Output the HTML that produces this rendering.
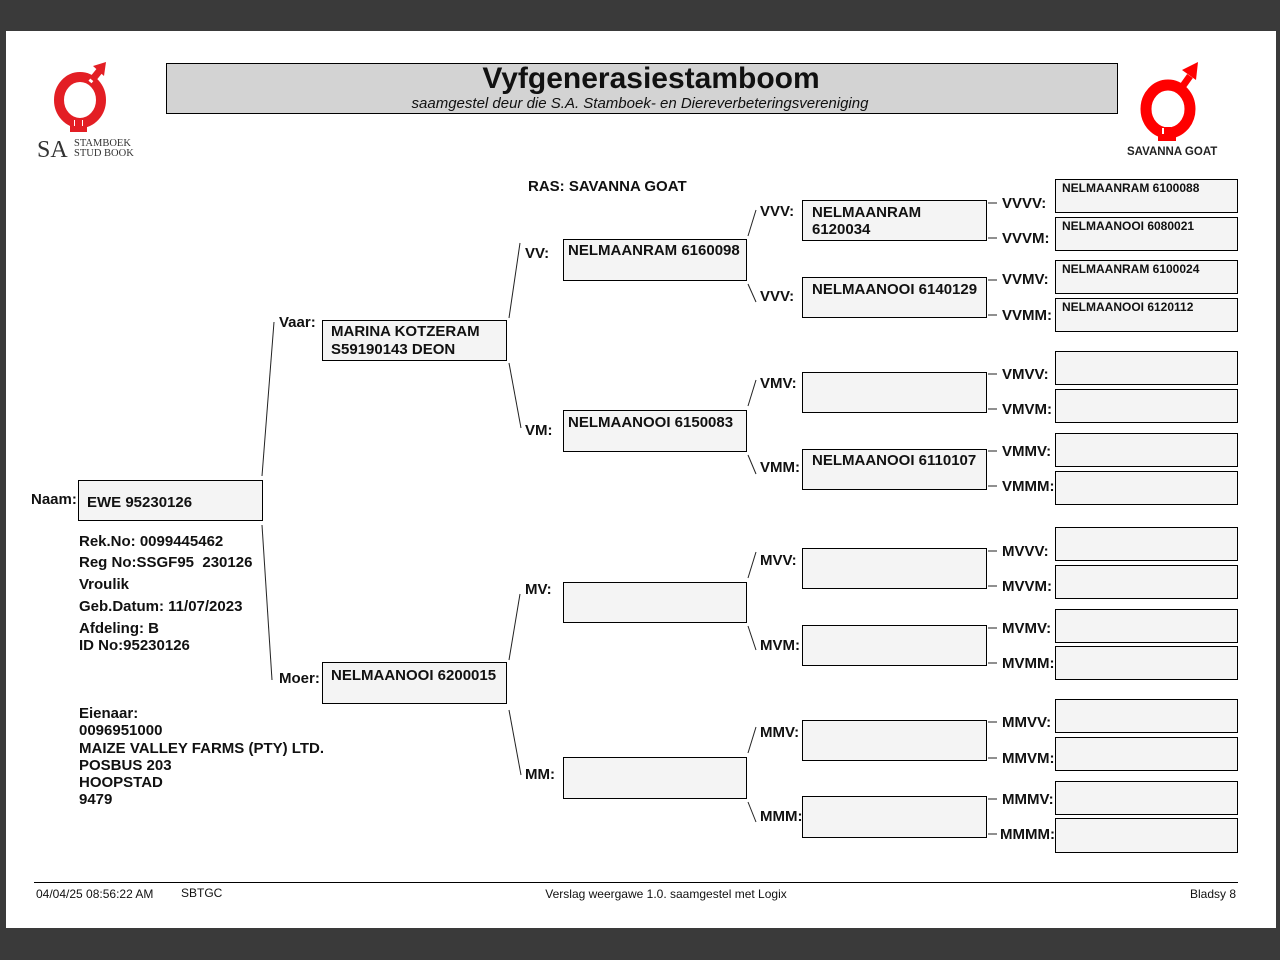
<!DOCTYPE html>
<html><head><meta charset="utf-8"><style>
html,body{margin:0;padding:0;background:#3a3a3a;}
svg{display:block;}
text{font-family:"Liberation Sans",Arial,sans-serif;}
.b{font-weight:bold;font-size:15px;fill:#111;}
.s{font-weight:bold;font-size:12px;fill:#111;}
.f{font-size:12px;fill:#111;}
.bx{fill:#f4f4f4;stroke:#000;stroke-width:1;}
.ln{stroke:#222;stroke-width:1;fill:none;}
</style></head><body>
<svg width="1280" height="960" xmlns="http://www.w3.org/2000/svg">
<rect x="0" y="0" width="1280" height="960" fill="#3a3a3a"/>
<rect x="6" y="31" width="1270" height="897" fill="#fff"/>
<!-- left logo -->
<g>
<ellipse cx="80" cy="100" rx="21" ry="23" fill="none" stroke="#e31e24" stroke-width="10"/>
<rect x="74" y="120" width="9" height="12" fill="#fff"/>
<rect x="75" y="118" width="7" height="14" fill="#e31e24"/>
<rect x="70" y="126" width="17" height="6" fill="#e31e24"/>
<line x1="90" y1="82" x2="100" y2="70" stroke="#fff" stroke-width="4"/>
<line x1="92" y1="80" x2="101" y2="69" stroke="#e31e24" stroke-width="7"/>
<polygon points="93,66 106,62 104,76" fill="#e31e24"/>
<text x="37" y="157" style="font-family:'Liberation Serif',serif;font-size:24px;fill:#333">SA</text>
<text x="74" y="146" style="font-family:'Liberation Serif',serif;font-size:10.5px;fill:#333">STAMBOEK</text>
<text x="74" y="156" style="font-family:'Liberation Serif',serif;font-size:10.5px;fill:#333">STUD BOOK</text>
</g>
<!-- right logo -->
<g>
<ellipse cx="1168" cy="109" rx="22" ry="24" fill="none" stroke="#f00" stroke-width="11"/>
<rect x="1162" y="128" width="9" height="12" fill="#fff"/>
<rect x="1164" y="127" width="7" height="13" fill="#f00"/>
<rect x="1158" y="134" width="18" height="7" fill="#f00"/>
<line x1="1180" y1="90" x2="1190" y2="76" stroke="#f00" stroke-width="7"/>
<polygon points="1182,70 1198,62 1196,80" fill="#f00"/>
<text x="1127" y="155" style="font-size:11.5px;font-weight:bold;fill:#222">SAVANNA GOAT</text>
</g>
<!-- title -->
<rect x="166.5" y="63.5" width="951" height="50" fill="#d3d3d3" stroke="#000"/>
<text x="651" y="88" text-anchor="middle" style="font-weight:bold;font-size:30px;fill:#111">Vyfgenerasiestamboom</text>
<text x="640" y="108" text-anchor="middle" style="font-style:italic;font-size:15px;fill:#111">saamgestel deur die S.A. Stamboek- en Diereverbeteringsvereniging</text>
<text x="528" y="191" class="b">RAS: SAVANNA GOAT</text>

<!-- gen1 -->
<text x="31" y="504" class="b">Naam:</text>
<rect x="78.5" y="480.5" width="184" height="40" class="bx"/>
<text x="87" y="507" class="b">EWE 95230126</text>
<text x="79" y="546" class="b">Rek.No: 0099445462</text>
<text x="79" y="567" class="b">Reg No:SSGF95&#160; 230126</text>
<text x="79" y="589" class="b">Vroulik</text>
<text x="79" y="611" class="b">Geb.Datum: 11/07/2023</text>
<text x="79" y="633" class="b">Afdeling: B</text>
<text x="79" y="650" class="b">ID No:95230126</text>
<text x="79" y="718" class="b">Eienaar:</text>
<text x="79" y="735" class="b">0096951000</text>
<text x="79" y="753" class="b">MAIZE VALLEY FARMS (PTY) LTD.</text>
<text x="79" y="770" class="b">POSBUS 203</text>
<text x="79" y="787" class="b">HOOPSTAD</text>
<text x="79" y="804" class="b">9479</text>

<line x1="262" y1="476" x2="274" y2="322" class="ln"/>
<line x1="262" y1="525" x2="272" y2="680" class="ln"/>

<!-- gen2 -->
<text x="279" y="327" class="b">Vaar:</text>
<rect x="322.5" y="320.5" width="184" height="40" class="bx"/>
<text x="331" y="336" class="b">MARINA KOTZERAM</text>
<text x="331" y="354" class="b">S59190143 DEON</text>
<text x="279" y="683" class="b">Moer:</text>
<rect x="322.5" y="662.5" width="184" height="41" class="bx"/>
<text x="331" y="680" class="b">NELMAANOOI 6200015</text>

<line x1="509" y1="318" x2="520" y2="243" class="ln"/>
<line x1="509" y1="363" x2="521" y2="428" class="ln"/>
<line x1="509" y1="660" x2="520" y2="594" class="ln"/>
<line x1="509" y1="710" x2="521" y2="775" class="ln"/>

<!-- gen3 -->
<text x="525" y="258" class="b">VV:</text>
<rect x="563.5" y="239.5" width="183" height="41" class="bx"/>
<text x="568" y="255" class="b">NELMAANRAM 6160098</text>
<text x="525" y="435" class="b">VM:</text>
<rect x="563.5" y="410.5" width="183" height="41" class="bx"/>
<text x="568" y="427" class="b">NELMAANOOI 6150083</text>
<text x="525" y="594" class="b">MV:</text>
<rect x="563.5" y="582.5" width="183" height="40" class="bx"/>
<text x="525" y="779" class="b">MM:</text>
<rect x="563.5" y="757.5" width="183" height="41" class="bx"/>

<line x1="748" y1="236" x2="756" y2="210" class="ln"/>
<line x1="748" y1="284" x2="756" y2="302" class="ln"/>
<line x1="748" y1="406" x2="756" y2="380" class="ln"/>
<line x1="748" y1="455" x2="756" y2="474" class="ln"/>
<line x1="748" y1="578" x2="756" y2="552" class="ln"/>
<line x1="748" y1="626" x2="756" y2="650" class="ln"/>
<line x1="748" y1="753" x2="756" y2="727" class="ln"/>
<line x1="748" y1="802" x2="756" y2="822" class="ln"/>

<!-- gen4 -->
<text x="760" y="216" class="b">VVV:</text>
<rect x="802.5" y="200.5" width="184" height="40" class="bx"/>
<text x="812" y="217" class="b">NELMAANRAM</text>
<text x="812" y="234" class="b">6120034</text>
<text x="760" y="301" class="b">VVV:</text>
<rect x="802.5" y="277.5" width="184" height="40" class="bx"/>
<text x="812" y="294" class="b">NELMAANOOI 6140129</text>
<text x="760" y="388" class="b">VMV:</text>
<rect x="802.5" y="372.5" width="184" height="40" class="bx"/>
<text x="760" y="472" class="b">VMM:</text>
<rect x="802.5" y="449.5" width="184" height="40" class="bx"/>
<text x="812" y="465" class="b">NELMAANOOI 6110107</text>
<text x="760" y="565" class="b">MVV:</text>
<rect x="802.5" y="548.5" width="184" height="40" class="bx"/>
<text x="760" y="650" class="b">MVM:</text>
<rect x="802.5" y="625.5" width="184" height="40" class="bx"/>
<text x="760" y="737" class="b">MMV:</text>
<rect x="802.5" y="720.5" width="184" height="40" class="bx"/>
<text x="760" y="821" class="b">MMM:</text>
<rect x="802.5" y="796.5" width="184" height="41" class="bx"/>

<!-- gen5 ticks -->
<g class="ln">
<line x1="988" y1="203" x2="997" y2="203"/><line x1="988" y1="238" x2="997" y2="238"/>
<line x1="988" y1="280" x2="997" y2="280"/><line x1="988" y1="315" x2="997" y2="315"/>
<line x1="988" y1="374" x2="997" y2="374"/><line x1="988" y1="409" x2="997" y2="409"/>
<line x1="988" y1="451" x2="997" y2="451"/><line x1="988" y1="486" x2="997" y2="486"/>
<line x1="988" y1="551" x2="997" y2="551"/><line x1="988" y1="586" x2="997" y2="586"/>
<line x1="988" y1="628" x2="997" y2="628"/><line x1="988" y1="663" x2="997" y2="663"/>
<line x1="988" y1="722" x2="997" y2="722"/><line x1="988" y1="758" x2="997" y2="758"/>
<line x1="988" y1="799" x2="997" y2="799"/><line x1="988" y1="834" x2="997" y2="834"/>
</g>
<text x="1002" y="208" class="b">VVVV:</text>
<text x="1002" y="243" class="b">VVVM:</text>
<text x="1002" y="284" class="b">VVMV:</text>
<text x="1002" y="320" class="b">VVMM:</text>
<text x="1002" y="379" class="b">VMVV:</text>
<text x="1002" y="414" class="b">VMVM:</text>
<text x="1002" y="456" class="b">VMMV:</text>
<text x="1002" y="491" class="b">VMMM:</text>
<text x="1002" y="556" class="b">MVVV:</text>
<text x="1002" y="591" class="b">MVVM:</text>
<text x="1002" y="633" class="b">MVMV:</text>
<text x="1002" y="668" class="b">MVMM:</text>
<text x="1002" y="727" class="b">MMVV:</text>
<text x="1002" y="763" class="b">MMVM:</text>
<text x="1002" y="804" class="b">MMMV:</text>
<text x="1000" y="839" class="b">MMMM:</text>

<g>
<rect x="1055.5" y="179.5" width="182" height="33" class="bx"/>
<rect x="1055.5" y="217.5" width="182" height="33" class="bx"/>
<rect x="1055.5" y="260.5" width="182" height="33" class="bx"/>
<rect x="1055.5" y="298.5" width="182" height="33" class="bx"/>
<rect x="1055.5" y="351.5" width="182" height="33" class="bx"/>
<rect x="1055.5" y="389.5" width="182" height="33" class="bx"/>
<rect x="1055.5" y="433.5" width="182" height="33" class="bx"/>
<rect x="1055.5" y="471.5" width="182" height="33" class="bx"/>
<rect x="1055.5" y="527.5" width="182" height="33" class="bx"/>
<rect x="1055.5" y="565.5" width="182" height="33" class="bx"/>
<rect x="1055.5" y="609.5" width="182" height="33" class="bx"/>
<rect x="1055.5" y="646.5" width="182" height="33" class="bx"/>
<rect x="1055.5" y="699.5" width="182" height="33" class="bx"/>
<rect x="1055.5" y="737.5" width="182" height="33" class="bx"/>
<rect x="1055.5" y="781.5" width="182" height="33" class="bx"/>
<rect x="1055.5" y="818.5" width="182" height="34" class="bx"/>
</g>
<text x="1062" y="192" class="s">NELMAANRAM 6100088</text>
<text x="1062" y="230" class="s">NELMAANOOI 6080021</text>
<text x="1062" y="273" class="s">NELMAANRAM 6100024</text>
<text x="1062" y="311" class="s">NELMAANOOI 6120112</text>

<!-- footer -->
<line x1="34" y1="882.5" x2="1238" y2="882.5" stroke="#000" stroke-width="1"/>
<text x="36" y="898" class="f">04/04/25 08:56:22 AM</text>
<text x="181" y="897" class="f">SBTGC</text>
<text x="666" y="898" class="f" text-anchor="middle">Verslag weergawe 1.0. saamgestel met Logix</text>
<text x="1236" y="898" class="f" text-anchor="end">Bladsy 8</text>
</svg>
</body></html>
